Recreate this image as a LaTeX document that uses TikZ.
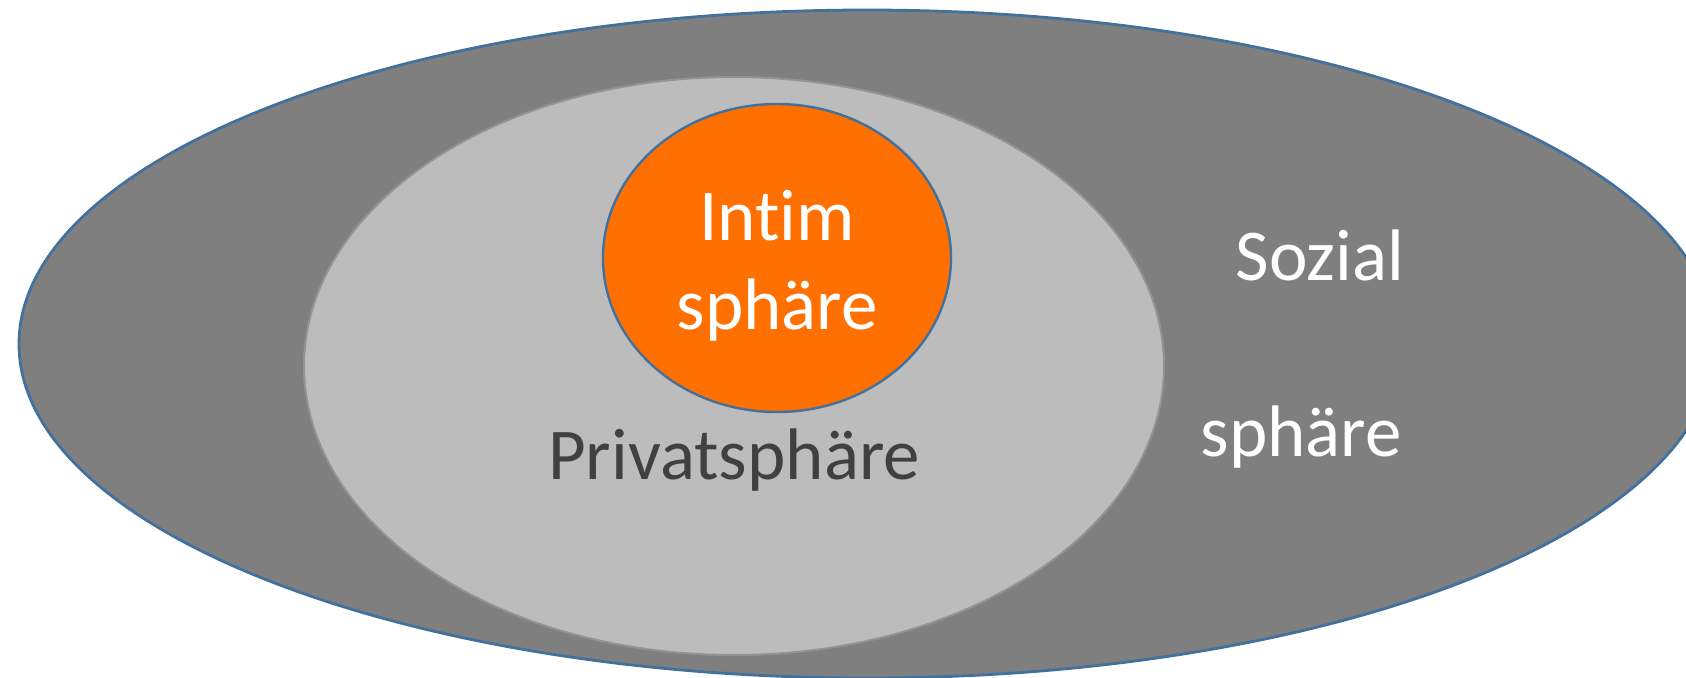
\documentclass[tikz,border=0pt]{standalone}
\usepackage{fontspec}
\setmainfont{Carlito}[Ligatures={NoCommon}]
\usepackage{tikz}
\usetikzlibrary{positioning}
\definecolor{SphereGray}{HTML}{7F7F7F}
\definecolor{SphereLight}{HTML}{BCBCBC}
\definecolor{SphereOrange}{HTML}{FF7000}
\definecolor{EdgeBlue}{HTML}{41719C}
\definecolor{TextDark}{HTML}{404040}
\tikzset{
  label text/.style={font=\fontsize{36.5}{44.5}\selectfont,anchor=base,inner sep=0pt},
}

\begin{document}
\begin{tikzpicture}[x=.5pt,y=-.5pt]
  \clip (0,0) rectangle (1686,677);
  \fill[white] (0,0) rectangle (1686,677);
  % spheres
  \draw[fill=SphereGray,draw=EdgeBlue,line width=1.4pt]
    (867,344) ellipse [x radius=848,y radius=334];
  \draw[fill=SphereLight,draw=gray!85,line width=1pt]
    (734,366) ellipse [x radius=430,y radius=289];
  \draw[fill=SphereOrange,draw=EdgeBlue,line width=1.2pt]
    (777,258) ellipse [x radius=174,y radius=154];
  % labels
  \node[label text,white] (intim) at (777,240) {Intim};
  \node[label text,white] (intimb) at (777,329) {sphäre};
  \node[label text,TextDark] (privat) at (734,479) {Privatsphäre};
  \node[label text,white] (sozial) at (1320,280) {Sozial};
  \node[label text,white] (sozialb) at (1301,456) {sphäre};
\end{tikzpicture}
\end{document}
